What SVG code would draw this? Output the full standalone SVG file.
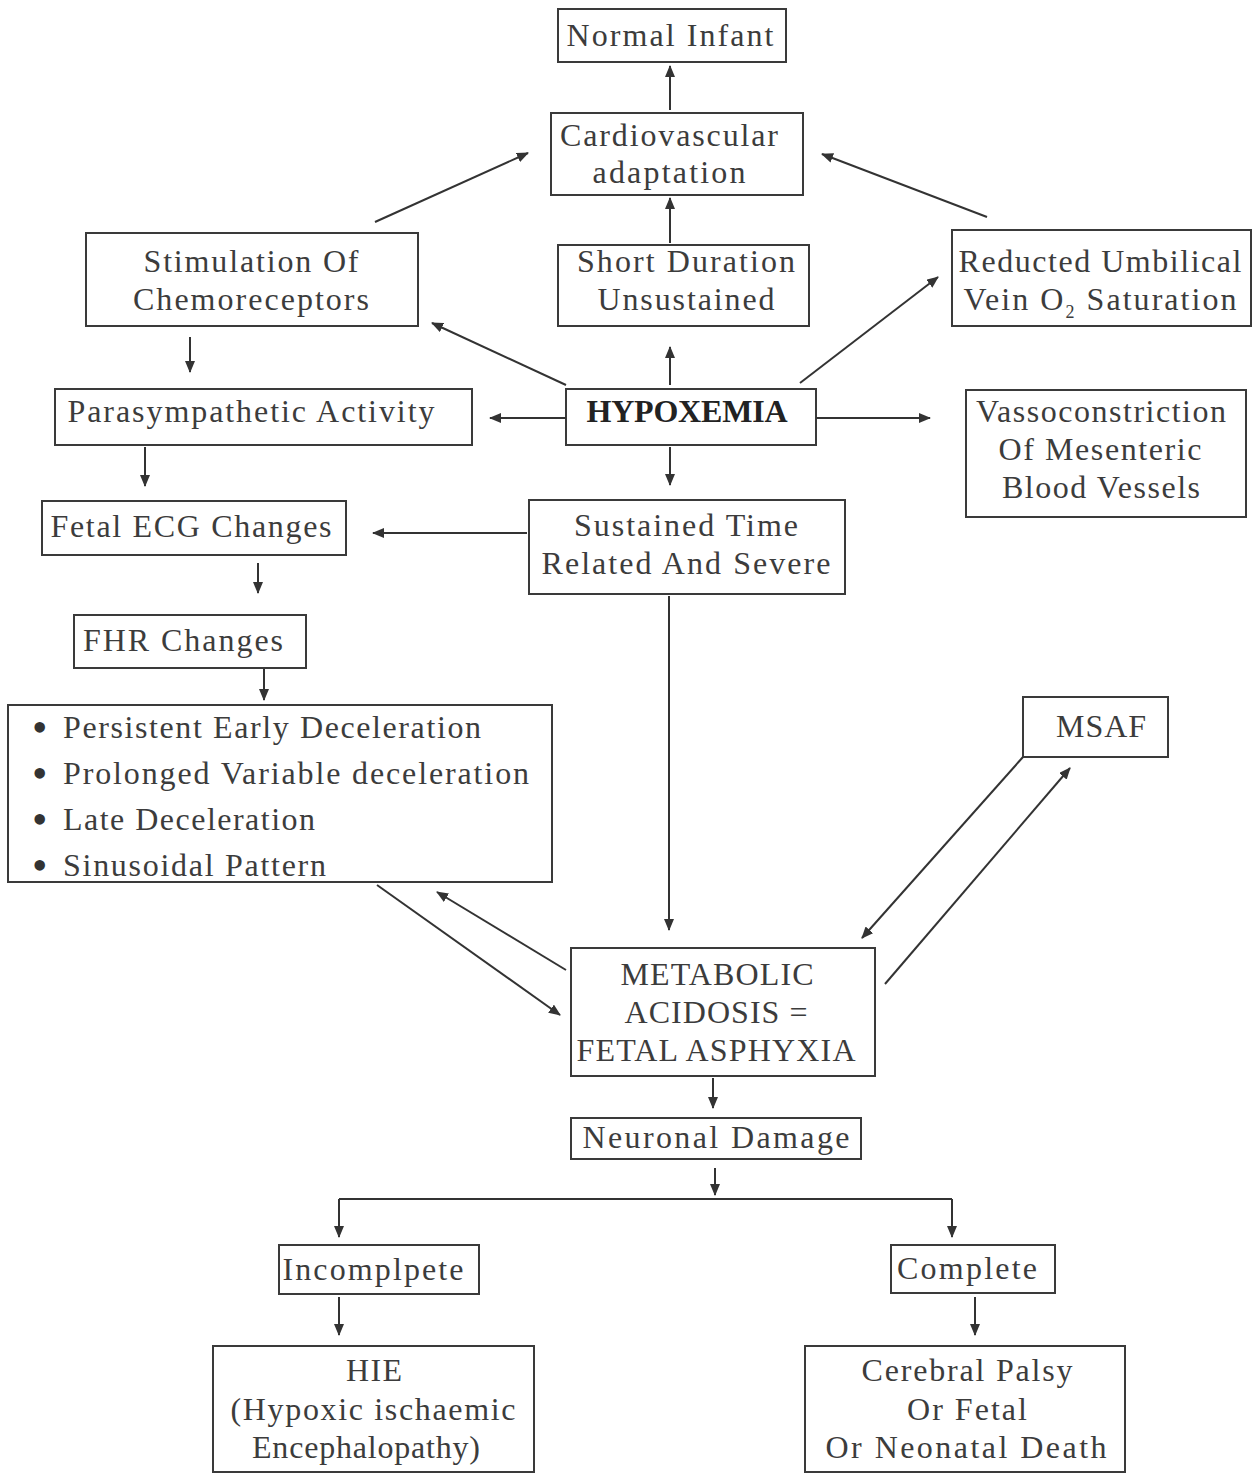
<svg xmlns="http://www.w3.org/2000/svg" width="1253" height="1474" viewBox="0 0 1253 1474">
<defs>
<marker id="ah" markerUnits="userSpaceOnUse" markerWidth="12" markerHeight="10" refX="11" refY="5" orient="auto">
<path d="M0,0 L12,5 L0,10 z" fill="#333"/>
</marker>
<style>
.box{fill:none;stroke:#3a3a3a;stroke-width:2}
.t{font-family:"Liberation Serif","Times New Roman",serif;font-size:32px;fill:#3c3c3c;text-anchor:middle}
.l{font-family:"Liberation Serif","Times New Roman",serif;font-size:32px;fill:#3c3c3c}
.bu{font-family:"Liberation Serif","Times New Roman",serif;font-size:44px;fill:#333}
.b{font-weight:bold;fill:#222}
.c line{stroke:#333;stroke-width:2;fill:none}
</style>
</defs>
<rect width="1253" height="1474" fill="#fff"/>

<g id="normal-infant"><rect class="box" x="558" y="9" width="228" height="53"/>
<text class="t" x="670" y="46" textLength="207" lengthAdjust="spacing">Normal Infant</text></g>

<g id="cardio"><rect class="box" x="551" y="113" width="252" height="82"/>
<text class="t" x="669" y="146" textLength="218" lengthAdjust="spacing">Cardiovascular</text>
<text class="t" x="669" y="183" textLength="153" lengthAdjust="spacing">adaptation</text></g>

<g id="stimulation"><rect class="box" x="86" y="233" width="332" height="93"/>
<text class="t" x="251" y="272" textLength="215" lengthAdjust="spacing">Stimulation Of</text>
<text class="t" x="251" y="310" textLength="236" lengthAdjust="spacing">Chemoreceptors</text></g>

<g id="short-duration"><rect class="box" x="558" y="245" width="251" height="81"/>
<text class="t" x="686" y="272" textLength="218" lengthAdjust="spacing">Short Duration</text>
<text class="t" x="686" y="310" textLength="177" lengthAdjust="spacing">Unsustained</text></g>

<g id="reducted"><rect class="box" x="952" y="230" width="299" height="96"/>
<text class="t" x="1100" y="272" textLength="283" lengthAdjust="spacing">Reducted Umbilical</text>
<text class="t" x="1100" y="310" textLength="273" lengthAdjust="spacing">Vein O<tspan font-size="18" dy="8">2</tspan><tspan dy="-8"> Saturation</tspan></text></g>

<g id="parasympathetic"><rect class="box" x="55" y="389" width="417" height="56"/>
<text class="t" x="251" y="422" textLength="367" lengthAdjust="spacing">Parasympathetic Activity</text></g>

<g id="hypoxemia"><rect class="box" x="566" y="389" width="250" height="56"/>
<text class="t b" x="687" y="422" textLength="201" lengthAdjust="spacing">HYPOXEMIA</text></g>

<g id="vasso"><rect class="box" x="966" y="390" width="280" height="127"/>
<text class="t" x="1101" y="422" textLength="250" lengthAdjust="spacing">Vassoconstriction</text>
<text class="t" x="1100" y="460" textLength="203" lengthAdjust="spacing">Of Mesenteric</text>
<text class="t" x="1101" y="498" textLength="198" lengthAdjust="spacing">Blood Vessels</text></g>

<g id="fetal-ecg"><rect class="box" x="42" y="501" width="304" height="54"/>
<text class="t" x="191" y="537" textLength="281" lengthAdjust="spacing">Fetal ECG Changes</text></g>

<g id="sustained"><rect class="box" x="529" y="500" width="316" height="94"/>
<text class="t" x="686" y="536" textLength="224" lengthAdjust="spacing">Sustained Time</text>
<text class="t" x="686" y="574" textLength="289" lengthAdjust="spacing">Related And Severe</text></g>

<g id="fhr"><rect class="box" x="74" y="615" width="232" height="53"/>
<text class="t" x="183" y="651" textLength="200" lengthAdjust="spacing">FHR Changes</text></g>

<g id="decelerations"><rect class="box" x="8" y="705" width="544" height="177"/>
<text class="bu" x="32" y="742">•</text><text class="l" x="63" y="738" textLength="418" lengthAdjust="spacing">Persistent Early Deceleration</text>
<text class="bu" x="32" y="788">•</text><text class="l" x="63" y="784" textLength="466" lengthAdjust="spacing">Prolonged Variable deceleration</text>
<text class="bu" x="32" y="834">•</text><text class="l" x="63" y="830" textLength="252" lengthAdjust="spacing">Late Deceleration</text>
<text class="bu" x="32" y="880">•</text><text class="l" x="63" y="876" textLength="263" lengthAdjust="spacing">Sinusoidal Pattern</text></g>

<g id="msaf"><rect class="box" x="1023" y="697" width="145" height="60"/>
<text class="t" x="1101" y="737" textLength="90" lengthAdjust="spacing">MSAF</text></g>

<g id="metabolic"><rect class="box" x="571" y="948" width="304" height="128"/>
<text class="t" x="717" y="985" textLength="193" lengthAdjust="spacing">METABOLIC</text>
<text class="t" x="716" y="1023" textLength="183" lengthAdjust="spacing">ACIDOSIS =</text>
<text class="t" x="716" y="1061" textLength="279" lengthAdjust="spacing">FETAL ASPHYXIA</text></g>

<g id="neuronal"><rect class="box" x="571" y="1118" width="290" height="41"/>
<text class="t" x="716" y="1148" textLength="267" lengthAdjust="spacing">Neuronal Damage</text></g>

<g id="incomplete"><rect class="box" x="279" y="1245" width="200" height="49"/>
<text class="t" x="373" y="1280" textLength="181" lengthAdjust="spacing">Incomplpete</text></g>

<g id="complete"><rect class="box" x="891" y="1245" width="164" height="48"/>
<text class="t" x="967" y="1279" textLength="140" lengthAdjust="spacing">Complete</text></g>

<g id="hie"><rect class="box" x="213" y="1346" width="321" height="126"/>
<text class="t" x="374" y="1381" textLength="56" lengthAdjust="spacing">HIE</text>
<text class="t" x="373" y="1420" textLength="285" lengthAdjust="spacing">(Hypoxic ischaemic</text>
<text class="t" x="366" y="1458" textLength="228" lengthAdjust="spacing">Encephalopathy)</text></g>

<g id="cerebral"><rect class="box" x="805" y="1346" width="320" height="126"/>
<text class="t" x="967" y="1381" textLength="211" lengthAdjust="spacing">Cerebral Palsy</text>
<text class="t" x="967" y="1420" textLength="120" lengthAdjust="spacing">Or Fetal</text>
<text class="t" x="966" y="1458" textLength="281" lengthAdjust="spacing">Or Neonatal Death</text></g>

<g id="connectors" class="c">
<line x1="670" y1="110" x2="670" y2="66" marker-end="url(#ah)"/>
<line x1="670" y1="243" x2="670" y2="198" marker-end="url(#ah)"/>
<line x1="375" y1="222" x2="528" y2="153" marker-end="url(#ah)"/>
<line x1="987" y1="217" x2="822" y2="154" marker-end="url(#ah)"/>
<line x1="566" y1="385" x2="432" y2="323" marker-end="url(#ah)"/>
<line x1="670" y1="385" x2="670" y2="347" marker-end="url(#ah)"/>
<line x1="800" y1="383" x2="938" y2="277" marker-end="url(#ah)"/>
<line x1="566" y1="418" x2="490" y2="418" marker-end="url(#ah)"/>
<line x1="816" y1="418" x2="930" y2="418" marker-end="url(#ah)"/>
<line x1="670" y1="447" x2="670" y2="485" marker-end="url(#ah)"/>
<line x1="190" y1="337" x2="190" y2="372" marker-end="url(#ah)"/>
<line x1="145" y1="447" x2="145" y2="486" marker-end="url(#ah)"/>
<line x1="527" y1="533" x2="373" y2="533" marker-end="url(#ah)"/>
<line x1="258" y1="563" x2="258" y2="593" marker-end="url(#ah)"/>
<line x1="264" y1="669" x2="264" y2="700" marker-end="url(#ah)"/>
<line x1="669" y1="596" x2="669" y2="930" marker-end="url(#ah)"/>
<line x1="377" y1="885" x2="560" y2="1015" marker-end="url(#ah)"/>
<line x1="566" y1="970" x2="437" y2="892" marker-end="url(#ah)"/>
<line x1="1023" y1="757" x2="862" y2="938" marker-end="url(#ah)"/>
<line x1="885" y1="984" x2="1070" y2="768" marker-end="url(#ah)"/>
<line x1="713" y1="1078" x2="713" y2="1108" marker-end="url(#ah)"/>
<line x1="715" y1="1168" x2="715" y2="1195" marker-end="url(#ah)"/>
<line x1="339" y1="1199" x2="952" y2="1199"/>
<line x1="339" y1="1199" x2="339" y2="1237" marker-end="url(#ah)"/>
<line x1="952" y1="1199" x2="952" y2="1237" marker-end="url(#ah)"/>
<line x1="339" y1="1297" x2="339" y2="1335" marker-end="url(#ah)"/>
<line x1="975" y1="1297" x2="975" y2="1335" marker-end="url(#ah)"/>
</g>
</svg>
